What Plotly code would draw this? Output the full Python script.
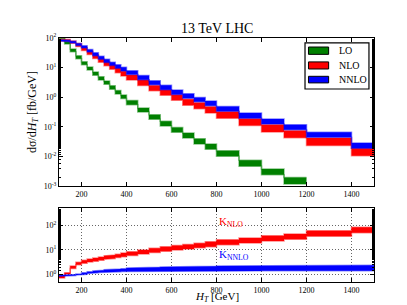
import numpy as np
import plotly.graph_objects as go

# ---------------- data ----------------
edges = [100, 125, 150, 175, 200, 225, 250, 275, 300, 325, 350, 375, 400,
         450, 500, 550, 600, 650, 700, 750, 800, 900, 1000, 1100, 1200, 1400, 1500]

lo_low = [95.5, 63.1, 34.3, 19.95, 12.6, 8.32, 5.56, 3.85, 2.72, 1.86, 1.29, 0.912,
          0.562, 0.316, 0.180, 0.107, 0.0661, 0.0422, 0.0266, 0.0174, 0.0101,
          0.00468, 0.00240, 0.00117]
lo_high = [114.8, 75.9, 42.2, 25.1, 15.8, 10.5, 7.16, 4.95, 3.51, 2.45, 1.70, 1.20,
           0.776, 0.437, 0.254, 0.155, 0.0955, 0.0624, 0.0394, 0.0263, 0.0157,
           0.00741, 0.00380, 0.00195]

nlo_low = [79.4, 77.6, 66.1, 51.3, 37.6, 27.5, 20.2, 15.1, 11.5, 8.81, 6.76, 5.25,
           3.85, 2.51, 1.66, 1.16, 0.785, 0.537, 0.407, 0.292, 0.195, 0.111,
           0.0676, 0.0427, 0.0237, 0.0105]
nlo_high = [91.2, 89.1, 79.4, 64.6, 48.4, 36.3, 27.2, 20.9, 15.8, 12.4, 9.77, 7.59,
            5.69, 3.80, 2.51, 1.80, 1.22, 0.851, 0.646, 0.473, 0.324, 0.188,
            0.117, 0.0741, 0.0422, 0.0191]

nnlo_low = [79.4, 75.0, 67.6, 55.6, 45.7, 33.5, 25.1, 19.05, 15.0, 11.9, 9.55, 7.76,
            5.82, 3.89, 2.63, 1.80, 1.24, 0.923, 0.700, 0.513, 0.339, 0.197,
            0.124, 0.0804, 0.0442, 0.0191]
nnlo_high = [87.1, 84.1, 77.6, 65.3, 55.0, 41.2, 31.6, 24.0, 19.3, 15.3, 12.6, 10.2,
             7.85, 5.37, 3.63, 2.54, 1.76, 1.30, 0.989, 0.741, 0.490, 0.292,
             0.184, 0.119, 0.0653, 0.0288]

k_nlo_low = [0.724, 1.05, 1.78, 2.51, 2.88, 3.24, 3.51, 3.85, 4.17, 4.47, 4.90, 5.31,
             5.89, 6.92, 7.85, 8.91, 10.0, 10.8, 12.2, 13.5, 16.2, 19.05, 23.2,
             26.9, 36.3, 50.1]
k_nlo_high = [0.871, 1.20, 2.24, 3.16, 3.80, 4.27, 4.73, 5.19, 5.75, 6.17, 6.76, 7.50,
              8.51, 10.0, 11.6, 13.5, 15.1, 16.8, 18.8, 21.4, 25.7, 30.2, 37.6,
              44.7, 60.3, 83.2]

k_nnlo_low = [0.851, 0.871, 0.912, 0.955, 1.023, 1.109, 1.175, 1.216, 1.259, 1.288,
              1.303, 1.334, 1.349, 1.365, 1.380, 1.365, 1.380, 1.380, 1.396, 1.396,
              1.413, 1.413, 1.445, 1.429, 1.462, 1.445]
k_nnlo_high = [0.933, 0.955, 1.0, 1.047, 1.175, 1.303, 1.413, 1.496, 1.585, 1.622,
               1.679, 1.718, 1.862, 1.928, 1.995, 2.018, 2.089, 2.089, 2.163, 2.163,
               2.239, 2.239, 2.291, 2.317, 2.371, 2.399]

series_names = ["LO", "NLO", "NNLO"]
series_colors = ["#008000", "#ff0000", "#0000ff"]
series_edge = ["rgba(0,128,0,0.45)", "rgba(255,0,0,0.45)", "rgba(0,0,255,0.45)"]

x_ticks = [200, 400, 600, 800, 1000, 1200, 1400]
y1_tickvals = [1e-3, 1e-2, 1e-1, 1, 10, 100]
y1_ticktext = ["10<sup>-3</sup>", "10<sup>-2</sup>", "10<sup>-1</sup>",
               "10<sup>0</sup>", "10<sup>1</sup>", "10<sup>2</sup>"]
y2_tickvals = [1, 10, 100]
y2_ticktext = ["10<sup>0</sup>", "10<sup>1</sup>", "10<sup>2</sup>"]

FONT = "Liberation Serif"


def step_xy(vals):
    n = len(vals)
    e = np.array(edges[:n + 1], dtype=float)
    xs = np.repeat(e, 2)[1:-1]
    ys = np.repeat(np.array(vals, dtype=float), 2)
    return xs, ys


fig = go.Figure()


def add_band(low, high, color, edge, name, xa, ya):
    xl, yl = step_xy(low)
    xh, yh = step_xy(high)
    fig.add_trace(go.Scatter(x=xl, y=yl, mode="lines", line=dict(color=edge, width=1.5),
                             showlegend=False, xaxis=xa, yaxis=ya, hoverinfo="skip"))
    fig.add_trace(go.Scatter(x=xh, y=yh, mode="lines", line=dict(color=edge, width=1.5),
                             fill="tonexty", fillcolor=color, name=name,
                             showlegend=False, xaxis=xa, yaxis=ya))


add_band(lo_low, lo_high, series_colors[0], series_edge[0], series_names[0], "x", "y")
add_band(nlo_low, nlo_high, series_colors[1], series_edge[1], series_names[1], "x", "y")
add_band(nnlo_low, nnlo_high, series_colors[2], series_edge[2], series_names[2], "x", "y")
add_band(k_nlo_low, k_nlo_high, series_colors[1], series_edge[1], "K_NLO", "x2", "y2")
add_band(k_nnlo_low, k_nnlo_high, series_colors[2], series_edge[2], "K_NNLO", "x2", "y2")

axis_common = dict(showline=True, linecolor="black", linewidth=1.2, mirror="ticks",
                   ticks="inside", ticklen=4, tickcolor="black",
                   tickfont=dict(family=FONT, size=8, color="black"), zeroline=False)

grid_style = dict(showgrid=True, gridcolor="#666", griddash="1px,2px", gridwidth=0.8)

fig.update_layout(
    width=407, height=305,
    margin=dict(l=51, r=41, t=30, b=31),
    paper_bgcolor="white", plot_bgcolor="white",
    showlegend=False,
    font=dict(family=FONT, color="black"),
    xaxis=dict(domain=[0, 1], anchor="y", range=[100, 1500], tickvals=x_ticks,
               showgrid=False, **axis_common),
    yaxis=dict(domain=[0.393, 1], anchor="x", type="log", range=[-3, 2],
               tickvals=y1_tickvals, ticktext=y1_ticktext, showgrid=False,
               minor=dict(ticks="inside", ticklen=2, tickcolor="black", showgrid=False),
               title=dict(text="dσ/d<i>H</i><sub><i>T</i></sub> [fb/GeV]",
                          font=dict(family=FONT, size=12), standoff=4),
               **axis_common),
    xaxis2=dict(domain=[0, 1], anchor="y2", range=[100, 1500], tickvals=x_ticks,
                **grid_style, **axis_common),
    yaxis2=dict(domain=[0, 0.303], anchor="x2", type="log",
                range=[np.log10(0.5), np.log10(500)],
                tickvals=y2_tickvals, ticktext=y2_ticktext,
                minor=dict(ticks="inside", ticklen=2, tickcolor="black", showgrid=False),
                **grid_style, **axis_common),
)

# title
fig.add_annotation(text="13 TeV LHC", xref="paper", yref="paper", x=0.5, y=1,
                   yanchor="bottom", showarrow=False, yshift=0,
                   font=dict(family=FONT, size=14, color="black"))

# x-axis title (bottom)
fig.add_annotation(text="<i>H</i><sub><i>T</i></sub> [GeV]", xref="paper", yref="paper",
                   x=0.5, y=-0.062, xanchor="center", yanchor="middle", showarrow=False,
                   font=dict(family=FONT, size=11, color="black"))

# K labels in ratio panel
fig.add_annotation(text="K<sub>NLO</sub>", xref="x2", yref="y2", x=800, y=2.13,
                   xanchor="left", yanchor="middle", showarrow=False,
                   font=dict(family=FONT, size=11, color=series_colors[1]))
fig.add_annotation(text="K<sub>NNLO</sub>", xref="x2", yref="y2", x=800, y=0.8,
                   xanchor="left", yanchor="middle", showarrow=False,
                   font=dict(family=FONT, size=11, color=series_colors[2]))

# legend (drawn box)
fig.add_shape(type="rect", xref="paper", yref="paper", x0=0.781, x1=0.984,
              y0=0.791, y1=0.980, line=dict(color="black", width=1.2),
              fillcolor="white", layer="above")
leg_y = [(0.933, 0.963), (0.873, 0.902), (0.816, 0.843)]
for (y0, y1), name, col in zip(leg_y, series_names, series_colors):
    fig.add_shape(type="rect", xref="paper", yref="paper", x0=0.792, x1=0.856,
                  y0=y0, y1=y1, line=dict(color="black", width=1),
                  fillcolor=col, layer="above")
    fig.add_annotation(text=name, xref="paper", yref="paper", x=0.883,
                       y=(y0 + y1) / 2, xanchor="left", yanchor="middle",
                       showarrow=False, font=dict(family=FONT, size=10, color="black"))

fig.write_html("out.html")
